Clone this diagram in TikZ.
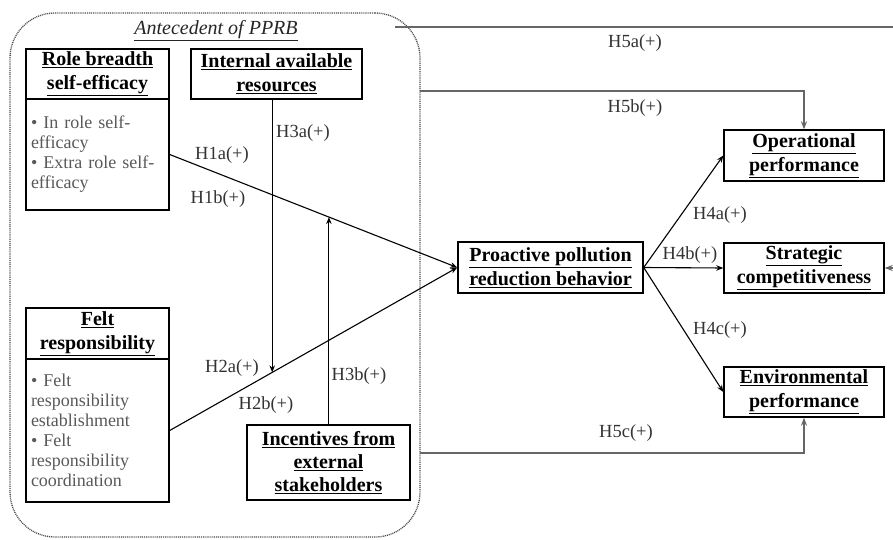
\documentclass[tikz,border=0pt]{standalone}
\usepackage{fontspec}
\setmainfont{Liberation Serif}
\usetikzlibrary{arrows.meta,calc}
\begin{document}
\begin{tikzpicture}[x=1pt,y=-1pt,
  boxstyle/.style={draw=black, line width=1.4pt, inner sep=0pt, align=center, font=\bfseries\fontsize{20}{24}\selectfont},
  bodystyle/.style={draw=black, line width=1.4pt, inner xsep=5pt, inner ysep=0pt, align=left, text=black!65, font=\fontsize{18}{20}\selectfont},
  hyp/.style={font=\fontsize{18.5}{20}\selectfont, text=black!80, inner sep=1pt},
  conn/.style={line width=1.1pt, -{Stealth[length=7pt,width=5.5pt]}},
  longconn/.style={line width=1.8pt, draw=black!60, -{Stealth[length=8pt,width=6pt]}},
  container/.style={draw=black!70, line width=1.3pt, dash pattern=on 1pt off 0.9pt, rounded corners=45pt, inner sep=0pt}
]
\useasboundingbox (0,0) rectangle (893,540);
\clip (0,0) rectangle (893,540);
\fill[white] (0,0) rectangle (893,540);

% container
\node[container, minimum width=410pt, minimum height=524pt] (ant) at (215,275) {};
\node[font=\itshape\fontsize{20}{24}\selectfont, text=black!85] (antT) at (216,31) {\underline{Antecedent of PPRB}};

% boxes
\node[boxstyle, minimum width=143pt, minimum height=50pt] (rbT) at (97.5,74) {\underline{Role breadth}\\\underline{self-efficacy}};
\node[bodystyle, text width=133pt, minimum height=111pt] (rbB) at (97.5,154.5) {\textbullet{} In role self-\\efficacy\\\textbullet{} Extra role self-\\efficacy};
\node[boxstyle, minimum width=171pt, minimum height=50pt] (iar) at (276.5,74) {\underline{Internal available}\\\underline{resources}};
\node[boxstyle, minimum width=143pt, minimum height=51pt] (frT) at (97.5,333.5) {\underline{Felt}\\\underline{responsibility}};
\node[bodystyle, text width=133pt, minimum height=143pt] (frB) at (97.5,430.5) {\textbullet{} Felt\\responsibility\\establishment\\\textbullet{} Felt\\responsibility\\coordination};
\node[boxstyle, minimum width=163pt, minimum height=75pt, font=\bfseries\fontsize{20}{23}\selectfont] (ies) at (328.5,462.5) {\underline{Incentives from}\\\underline{external}\\\underline{stakeholders}};
\node[boxstyle, minimum width=185pt, minimum height=51pt] (ppr) at (550.5,267.5) {\underline{Proactive pollution}\\\underline{reduction behavior}};
\node[boxstyle, minimum width=160pt, minimum height=51pt] (op) at (804,155.5) {\underline{Operational}\\\underline{performance}};
\node[boxstyle, minimum width=160pt, minimum height=50pt] (sc) at (804,268) {\underline{Strategic}\\\underline{competitiveness}};
\node[boxstyle, minimum width=160pt, minimum height=50pt] (ep) at (804,392) {\underline{Environmental}\\\underline{performance}};

% main connectors
\draw[conn] (rbB.east) -- (ppr.west);
\draw[conn] (frB.east) -- (ppr.west);
\coordinate (h2a) at ($(frB.east)!0.3564!(ppr.west)$);
\coordinate (h1b) at ($(rbB.east)!0.5536!(ppr.west)$);
\draw[conn] (iar.south -| h2a) -- (h2a);
\draw[conn] (ies.north -| h1b) -- (h1b);
\draw[conn] (ppr.east) -- (op.west);
\draw[conn] (ppr.east) -- (sc.west);
\draw[conn] (ppr.east) -- (ep.west);

% long connectors
\coordinate (h5as) at (395,27);
\coordinate (h5ae) at (910,27);
\draw[longconn] (h5as) -- (h5ae) |- (sc.east);
\coordinate (h5bs) at (420,91);
\draw[longconn] (h5bs) -| (op.north);
\coordinate (h5cs) at (420,453);
\draw[longconn] (h5cs) -| (ep.south);

% labels
\node[hyp] (l1a) at (222,155) {H1a(+)};
\node[hyp] (l1b) at (218,199) {H1b(+)};
\node[hyp] (l3a) at (303,133) {H3a(+)};
\node[hyp] (l2a) at (232,368) {H2a(+)};
\node[hyp] (l2b) at (266,405) {H2b(+)};
\node[hyp] (l3b) at (359,376) {H3b(+)};
\node[hyp] (l5a) at (635,43) {H5a(+)};
\node[hyp] (l5b) at (635,108) {H5b(+)};
\node[hyp] (l4a) at (720,215) {H4a(+)};
\node[hyp] (l4b) at (690,255) {H4b(+)};
\node[hyp] (l4c) at (720,330) {H4c(+)};
\node[hyp] (l5c) at (626,433) {H5c(+)};
\end{tikzpicture}
\end{document}
